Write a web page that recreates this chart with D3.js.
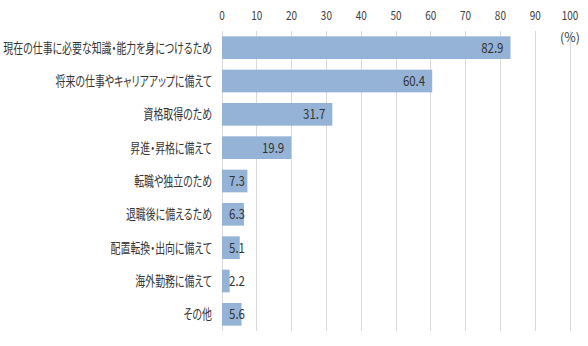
<!DOCTYPE html>
<html><head><meta charset="utf-8">
<script src="https://cdn.jsdelivr.net/npm/d3@7"></script>
<style>
html,body{margin:0;padding:0;background:#fff;}
text{font-family:"Noto Sans CJK JP","Noto Sans",sans-serif;font-feature-settings:"palt";}
</style></head>
<body><svg id="c" width="588" height="346"></svg>
<script>
const categories = ["現在の仕事に必要な知識・能力を身につけるため","将来の仕事やキャリアアップに備えて","資格取得のため","昇進・昇格に備えて","転職や独立のため","退職後に備えるため","配置転換・出向に備えて","海外勤務に備えて","その他"];
const values = [82.9,60.4,31.7,19.9,7.3,6.3,5.1,2.2,5.6];
const tickValues = [0,10,20,30,40,50,60,70,80,90,100];
const unitLabel = "(%)";

const svg = d3.select("#c");
const x = d3.scaleLinear().domain([0,100]).range([222,570]);
const y = d3.scaleBand().domain(categories).range([31,331]).paddingInner(0.32).paddingOuter(0.16);

// gridlines
svg.append("g").selectAll("line").data(tickValues).join("line")
  .attr("x1",d=>x(d)).attr("x2",d=>x(d)).attr("y1",31).attr("y2",331)
  .attr("stroke","#d9d9d9").attr("stroke-width",1).attr("shape-rendering","crispEdges");

// top axis labels
const axis = d3.axisTop(x).tickValues(tickValues).tickSize(0).tickPadding(0);
const ag = svg.append("g").attr("transform","translate(0,19.5)").call(axis);
ag.select(".domain").remove();
ag.selectAll("text").attr("y",0).attr("dy",0).attr("fill","#404040").style("font-size","12.5px")
  .style("font-family","'Noto Sans CJK JP'");
ag.selectAll(".tick").each(function(d){
  d3.select(this).attr("transform",`translate(${x(d)},0) scale(0.8,1)`);
});

svg.append("text").attr("x",570).attr("y",42).attr("text-anchor","middle")
  .attr("fill","#404040").style("font-size","12.5px").text(unitLabel);

// bars
svg.append("g").selectAll("rect").data(values).join("rect")
  .attr("x",x(0)).attr("y",(d,i)=>y(categories[i]))
  .attr("width",d=>x(d)-x(0)).attr("height",y.bandwidth())
  .attr("fill","#95b3d7");

// category labels
const cl = svg.append("g").selectAll("text").data(categories).join("text")
  .attr("text-anchor","end").attr("fill","#333").style("font-size","13.5px")
  .attr("dy","0.36em").text(d=>d);
let maxW = 0;
cl.each(function(){ maxW = Math.max(maxW, this.getComputedTextLength()); });
const sx = Math.min(1, 209/maxW);
cl.attr("transform",d=>`translate(212,${y(d)+y.bandwidth()/2}) scale(${sx},1)`);

// value labels
const vsx = 0.82;
svg.append("g").selectAll("text").data(values).join("text")
  .attr("fill","#333").style("font-size","14px").attr("text-anchor","end").attr("dy","0.36em")
  .text(d=>d.toFixed(1))
  .each(function(d,i){
    const w = this.getComputedTextLength()*vsx;
    const right = Math.max(x(d)-7, x(0)+7+w);
    d3.select(this).attr("transform",`translate(${right},${y(categories[i])+y.bandwidth()/2}) scale(${vsx},1)`);
  });
</script></body></html>
